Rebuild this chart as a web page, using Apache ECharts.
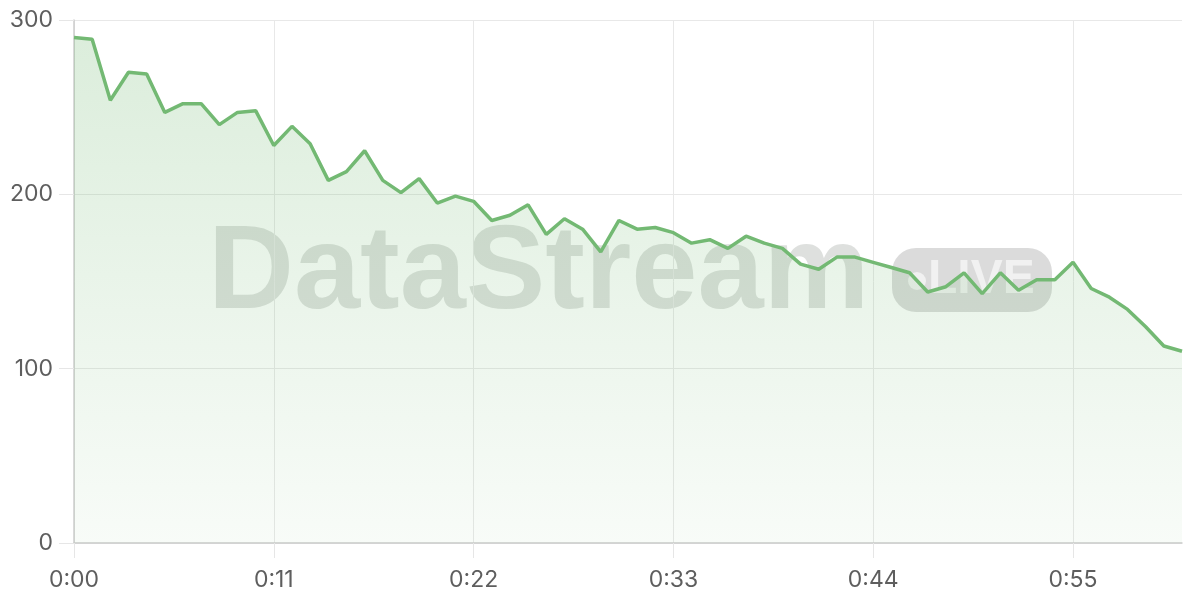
<!DOCTYPE html>
<html>
<head>
<meta charset="utf-8">
<script src="https://cdn.jsdelivr.net/npm/echarts@6/dist/echarts.min.js"></script>
<style>
html,body{margin:0;padding:0;background:#fff;}
#chart{width:1200px;height:600px;}
</style>
</head>
<body>
<div id="chart"></div>
<script>
// Time labels (seconds 0..61)
var seconds = [];
for (var s = 0; s <= 61; s++) seconds.push(s);
var categories = seconds.map(function (s) {
  var m = Math.floor(s / 60), r = s % 60;
  return m + ':' + (r < 10 ? '0' + r : r);
});

var values = [
  290, 289, 254, 270, 269, 247, 252, 252, 240, 247,
  248, 228, 239, 229, 208, 213, 225, 208, 201, 209,
  195, 199, 196, 185, 188, 194, 177, 186, 180, 167,
  185, 180, 181, 178, 172, 174, 169, 176, 172, 169,
  160, 157, 164, 164, 161, 158, 155, 144, 147, 155,
  143, 155, 145, 151, 151, 161, 146, 141, 134, 124,
  113, 110
];

var yTicks = [0, 100, 200, 300];

var chart = echarts.init(document.getElementById('chart'), null, {renderer: 'canvas'});
var labelFont = 'Inter, "Liberation Sans", sans-serif';

chart.setOption({
  animation: false,
  backgroundColor: '#ffffff',
  grid: {left: 74, right: 18, top: 20, bottom: 57},
  graphic: [
    {
      type: 'text', z: -10, silent: true,
      left: 208, top: 216,
      style: {
        text: 'DataStream',
        font: 'bold 119px "Liberation Sans", Arial, sans-serif',
        fill: 'rgba(60,70,60,0.17)'
      }
    },
    {
      type: 'rect', z: -10, silent: true,
      shape: {x: 892, y: 248, width: 160, height: 64, r: 24},
      style: {fill: 'rgba(0,0,0,0.14)'}
    },
    {
      type: 'circle', z: -9, silent: true,
      shape: {cx: 917, cy: 281, r: 9},
      style: {fill: 'rgba(255,255,255,0.6)'}
    },
    {
      type: 'text', z: -9, silent: true,
      left: 928, top: 256,
      style: {
        text: 'LIVE',
        font: 'bold 48px "Liberation Sans", Arial, sans-serif',
        fill: 'rgba(255,255,255,0.6)'
      }
    }
  ],
  xAxis: {
    type: 'category',
    data: categories,
    boundaryGap: false,
    axisLine: {show: true, lineStyle: {color: '#cccccc', width: 1.5}},
    axisTick: {show: true, length: 15, interval: 10, lineStyle: {color: '#e6e6e6'}},
    axisLabel: {interval: 10, margin: 26, fontSize: 23, color: '#5e5e5e', fontFamily: labelFont},
    splitLine: {show: true, interval: 10, lineStyle: {color: '#e8e8e8'}}
  },
  yAxis: {
    type: 'value',
    min: yTicks[0], max: yTicks[yTicks.length - 1], interval: 100,
    axisLine: {show: true, lineStyle: {color: '#cccccc', width: 1.5}},
    axisTick: {show: true, length: 15, lineStyle: {color: '#e6e6e6'}},
    axisLabel: {margin: 21, fontSize: 23, color: '#5e5e5e', fontFamily: labelFont},
    splitLine: {show: true, lineStyle: {color: '#e8e8e8'}}
  },
  series: [{
    type: 'line',
    data: values,
    showSymbol: false,
    symbol: 'none',
    lineStyle: {color: '#73b973', width: 3.5},
    itemStyle: {color: '#73b973'},
    areaStyle: {
      color: new echarts.graphic.LinearGradient(0, 0, 0, 1, [
        {offset: 0, color: 'rgba(115,185,115,0.36)'},
        {offset: 1, color: 'rgba(115,185,115,0.07)'}
      ])
    }
  }]
});
</script>
</body>
</html>
